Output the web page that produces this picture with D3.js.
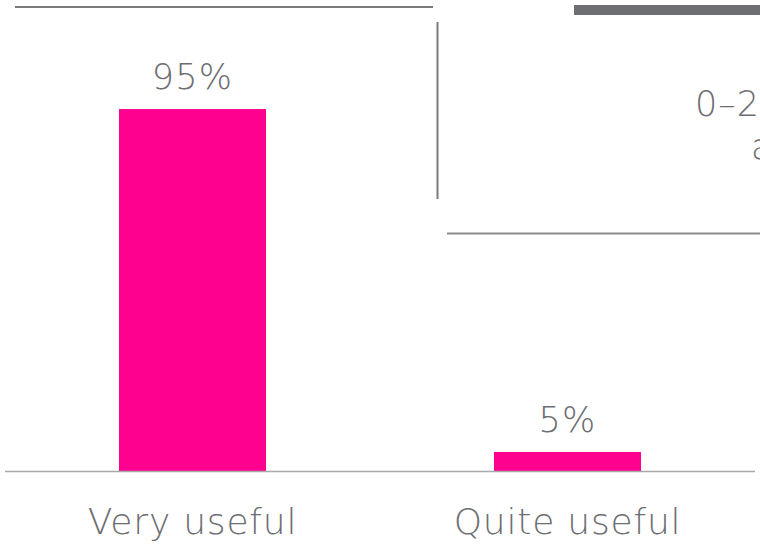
<!DOCTYPE html>
<html>
<head>
<meta charset="utf-8">
<script src="https://cdn.jsdelivr.net/npm/d3@7"></script>
<style>
  html, body { margin: 0; padding: 0; background: #fff; }
  svg { display: block; }
  text { font-family: "DejaVu Sans", sans-serif; font-weight: 200; fill: #6d6e71; }
</style>
</head>
<body>
<svg id="chart"></svg>
<script>
// chart data
var categories = ["Very useful", "Quite useful"];
var values = [95, 5];
var sideText = ["0\u20132", "a"];

var width = 760, height = 548;

var svg = d3.select("#chart")
    .attr("width", width)
    .attr("height", height);

var x = d3.scaleBand()
    .domain(categories)
    .range([5, 755])
    .paddingInner(0.608)
    .paddingOuter(0.304);

var y = d3.scaleLinear()
    .domain([0, 100])
    .range([471, 90]);

// decoration lines from the neighbouring panel
svg.append("line")
    .attr("x1", 15).attr("x2", 433)
    .attr("y1", 7).attr("y2", 7)
    .attr("stroke", "#7a7a7c").attr("stroke-width", 2);

svg.append("rect")
    .attr("x", 574).attr("y", 5)
    .attr("width", 186).attr("height", 10)
    .attr("fill", "#6d6e71");

svg.append("line")
    .attr("x1", 437.5).attr("x2", 437.5)
    .attr("y1", 22).attr("y2", 199)
    .attr("stroke", "#7a7a7c").attr("stroke-width", 2);

svg.append("line")
    .attr("x1", 447).attr("x2", 760)
    .attr("y1", 233.5).attr("y2", 233.5)
    .attr("stroke", "#8a8a8c").attr("stroke-width", 2);

svg.selectAll(".side")
    .data(sideText)
    .enter()
    .append("text")
    .attr("class", "side")
    .attr("x", function(d, i) { return i == 0 ? 695 : 751; })
    .attr("y", function(d, i) { return 116 + i * 43; })
    .attr("font-size", "35px")
    .attr("letter-spacing", "1px")
    .text(function(d) { return d; });

// bars
svg.selectAll(".bar")
    .data(values)
    .enter()
    .append("rect")
    .attr("class", "bar")
    .attr("x", function(d, i) { return x(categories[i]); })
    .attr("y", function(d) { return y(d); })
    .attr("width", x.bandwidth())
    .attr("height", function(d) { return y(0) - y(d); })
    .attr("fill", "#ff008f");

// baseline
svg.append("line")
    .attr("x1", 5).attr("x2", 755)
    .attr("y1", y(0) + 0.5).attr("y2", y(0) + 0.5)
    .attr("stroke", "#aaaaaa").attr("stroke-width", 1.5);

// value labels
svg.selectAll(".val")
    .data(values)
    .enter()
    .append("text")
    .attr("class", "val")
    .attr("x", function(d, i) { return x(categories[i]) + x.bandwidth() / 2; })
    .attr("y", function(d) { return y(d) - 20; })
    .attr("text-anchor", "middle")
    .attr("font-size", "35px")
    .attr("letter-spacing", "1.2px")
    .text(function(d) { return d + "%"; });

// category labels
svg.selectAll(".cat")
    .data(categories)
    .enter()
    .append("text")
    .attr("class", "cat")
    .attr("x", function(d) { return x(d) + x.bandwidth() / 2; })
    .attr("y", 534)
    .attr("text-anchor", "middle")
    .attr("font-size", "36px")
    .attr("letter-spacing", "0.8px")
    .text(function(d) { return d; });
</script>
</body>
</html>
